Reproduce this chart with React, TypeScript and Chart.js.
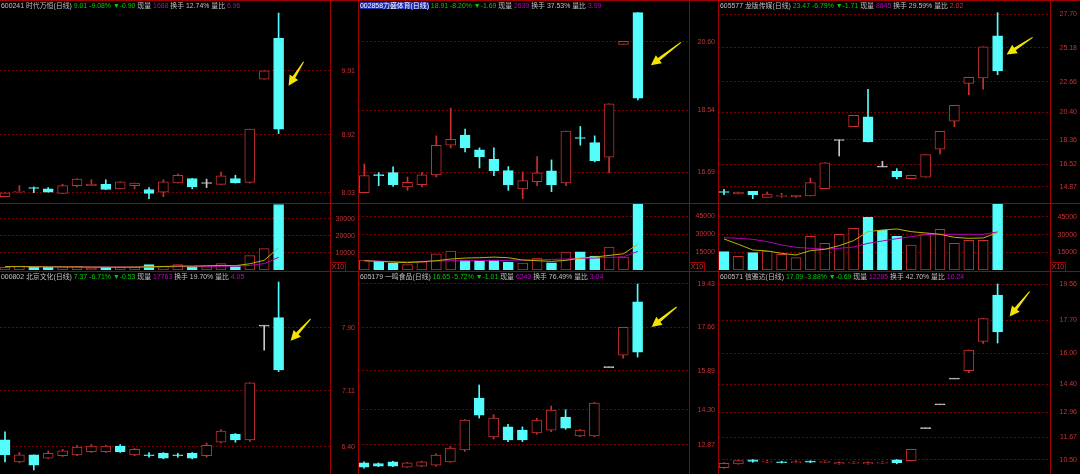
import React, { useEffect, useRef } from "react";
import { Chart, registerables } from "chart.js";

Chart.register(...registerables);

// ---------------- data ----------------
// Panel 1: 600241 时代万恒
const p1Open = [7.97, 8.04, 8.105, 8.09, 8.02, 8.14, 8.14, 8.16, 8.09, 8.14, 8.08, 8.04, 8.18, 8.25, 8.18, 8.16, 8.25, 8.19, 9.78, 10.41];
const p1High = [8.03, 8.14, 8.12, 8.11, 8.16, 8.25, 8.23, 8.23, 8.2, 8.18, 8.11, 8.23, 8.32, 8.25, 8.24, 8.35, 8.3, 9.01, 9.91, 10.8];
const p1Low = [7.97, 8.04, 8.03, 8.04, 8.02, 8.12, 8.14, 8.08, 8.09, 8.09, 7.94, 7.97, 8.18, 8.09, 8.11, 8.16, 8.18, 8.18, 9.78, 8.94];
const p1Close = [8.03, 8.05, 8.1, 8.04, 8.14, 8.24, 8.16, 8.08, 8.2, 8.18, 8.02, 8.2, 8.3, 8.12, 8.18, 8.29, 8.18, 9.01, 9.91, 9.01];
const p1Vol = [1570, 2350, 1570, 1570, 1960, 1960, 1180, 1570, 1570, 1570, 3140, 2350, 3140, 1960, 1960, 3730, 1960, 8430, 12550, 38430];
const p1Ma5 = [2000, 2000, 1900, 1800, 1800, 1800, 1700, 1650, 1650, 1700, 1900, 2050, 2300, 2300, 2500, 2650, 2550, 3650, 5700, 13000];
const p1Ma10 = [2000, 2000, 1950, 1900, 1850, 1850, 1800, 1750, 1750, 1750, 1800, 1850, 1950, 1950, 2000, 2200, 2250, 2700, 3750, 7400];
const p1Ticks = [9.91, 8.92, 8.03];
const p1VolTicks = [30000, 20000, 10000];
const p1Head = ["600241", "时代万恒", "9.01", "-9.08%", "-0.90", "1688", "12.74%", "6.96"];

// Panel 2: 002858 力盛体育
const p2Open = [16.08, 16.61, 16.68, 16.25, 16.32, 16.61, 17.5, 17.8, 17.36, 17.08, 16.74, 16.19, 16.41, 16.73, 16.37, 17.72, 17.58, 17.14, 20.52, 21.47];
const p2High = [16.94, 16.68, 16.85, 16.55, 16.68, 17.78, 18.61, 17.98, 17.42, 17.42, 16.86, 16.7, 17.16, 17.06, 17.92, 18.06, 17.78, 18.74, 20.61, 21.47];
const p2Low = [16.08, 16.29, 16.27, 16.15, 16.25, 16.55, 17.42, 17.3, 16.82, 16.59, 16.15, 15.9, 16.29, 16.11, 16.29, 17.5, 17.0, 16.68, 20.52, 18.86];
const p2Close = [16.59, 16.6, 16.32, 16.39, 16.61, 17.5, 17.68, 17.42, 17.16, 16.74, 16.31, 16.44, 16.67, 16.31, 17.92, 17.71, 17.04, 18.74, 20.61, 18.91];
const p2Vol = [8333, 7222, 5833, 4444, 6944, 13611, 15833, 8333, 7222, 8333, 6667, 5833, 10000, 6111, 15000, 15278, 11667, 19167, 10833, 55000];
const p2Ma5 = [7778, 7222, 6667, 6111, 6944, 7778, 9167, 10000, 10278, 10833, 10278, 8333, 7778, 7222, 8056, 10000, 10833, 12222, 13611, 21667];
const p2Ma10 = [7778, 7500, 6944, 6944, 7222, 7500, 7778, 7778, 8056, 8056, 8056, 8333, 8611, 8889, 9167, 9722, 10000, 10556, 11111, 15556];
const p2Ticks = [20.6, 18.54, 16.69];
const p2VolTicks = [45000, 30000, 15000];
const p2Head = ["002858", "力盛体育", "18.91", "-8.20%", "-1.69", "2639", "37.53%", "3.99"];

// Panel 3: 605577 龙版传媒
const p3Open = [14.48, 14.33, 14.53, 14.08, 14.18, 14.13, 14.18, 14.72, 18.34, 19.33, 20.07, 16.36, 16.01, 15.46, 15.57, 17.65, 19.73, 22.55, 22.95, 26.07];
const p3High = [14.68, 14.47, 14.53, 14.48, 14.38, 14.23, 15.52, 16.65, 18.34, 20.17, 22.11, 16.76, 16.21, 15.72, 17.25, 18.99, 20.92, 23.0, 25.27, 27.8];
const p3Low = [14.27, 14.33, 13.98, 14.08, 14.08, 14.08, 14.18, 14.72, 17.15, 19.33, 18.19, 16.36, 15.46, 15.46, 15.57, 17.3, 19.33, 21.7, 22.11, 23.19];
const p3Close = [14.47, 14.47, 14.27, 14.33, 14.2, 14.23, 15.17, 16.65, 18.34, 20.17, 18.19, 16.36, 15.61, 15.72, 17.25, 18.99, 20.92, 23.0, 25.27, 23.47];
const p3Vol = [15566, 11600, 14717, 16132, 13302, 10472, 28585, 22642, 30283, 35377, 44717, 33679, 28585, 21226, 30566, 34528, 22642, 25189, 25189, 55755];
const p3Ma5 = [26319, 21791, 16980, 16131, 14150, 12735, 16414, 17546, 20659, 24904, 32545, 33960, 34809, 32545, 31413, 30281, 27734, 26885, 27168, 31696];
const p3Ma10 = [27451, 26885, 26036, 24055, 21225, 19244, 18395, 17829, 18395, 19527, 22640, 24621, 26602, 28300, 29998, 30281, 30281, 30281, 30281, 32262];
const p3Ticks = [27.7, 25.18, 22.66, 20.4, 18.36, 16.52, 14.87];
const p3VolTicks = [45000, 30000, 15000];
const p3Head = ["605577", "龙版传媒", "23.47", "-6.79%", "-1.71", "8845", "29.59%", "2.02"];

// Panel 4: 000802 北京文化
const p4Open = [6.49, 6.21, 6.3, 6.26, 6.29, 6.3, 6.34, 6.34, 6.41, 6.3, 6.3, 6.32, 6.3, 6.32, 6.29, 6.46, 6.56, 6.49, 7.93, 8.03];
const p4High = [6.59, 6.33, 6.3, 6.35, 6.37, 6.42, 6.43, 6.42, 6.43, 6.38, 6.33, 6.33, 6.32, 6.33, 6.45, 6.62, 6.57, 7.21, 7.93, 8.48];
const p4Low = [6.21, 6.2, 6.11, 6.25, 6.28, 6.29, 6.33, 6.33, 6.33, 6.29, 6.27, 6.25, 6.27, 6.25, 6.27, 6.45, 6.46, 6.47, 7.62, 7.35];
const p4Close = [6.3, 6.3, 6.17, 6.32, 6.35, 6.4, 6.41, 6.41, 6.34, 6.37, 6.29, 6.26, 6.29, 6.26, 6.42, 6.6, 6.49, 7.21, 7.93, 7.37];
const p4Ticks = [7.9, 7.11, 6.4];
const p4Head = ["000802", "北京文化", "7.37", "-6.71%", "-0.53", "17763", "19.70%", "4.05"];

// Panel 5: 605179 一鸣食品
const p5Open = [12.13, 12.1, 12.17, 11.96, 12.0, 12.04, 12.17, 12.66, 14.78, 13.19, 13.6, 13.47, 13.35, 13.47, 14.0, 13.23, 13.23, 16.04, 16.53, 18.7];
const p5High = [12.17, 12.13, 12.2, 12.15, 12.2, 12.5, 12.8, 13.9, 15.31, 14.1, 13.7, 13.6, 13.95, 14.45, 14.3, 13.5, 14.6, 16.04, 17.66, 19.43];
const p5Low = [11.92, 11.98, 11.98, 11.95, 11.98, 12.0, 12.15, 12.6, 13.96, 13.1, 13.0, 13.0, 13.3, 13.4, 13.5, 13.2, 13.2, 16.04, 16.4, 16.45];
const p5Close = [11.96, 12.0, 12.0, 12.13, 12.17, 12.45, 12.74, 13.88, 14.08, 13.96, 13.07, 13.07, 13.88, 14.29, 13.55, 13.47, 14.57, 16.04, 17.66, 16.65];
const p5Ticks = [19.43, 17.66, 15.89, 14.3, 12.87];
const p5Head = ["605179", "一鸣食品", "16.65", "-5.72%", "-1.01", "6243", "76.49%", "3.04"];

// Panel 6: 600571 信雅达
const p6Open = [10.1, 10.3, 10.5, 10.38, 10.4, 10.36, 10.44, 10.38, 10.3, 10.34, 10.3, 10.34, 10.5, 10.46, 12.14, 13.36, 14.69, 15.1, 16.6, 18.99];
const p6High = [10.36, 10.5, 10.52, 10.48, 10.44, 10.46, 10.46, 10.46, 10.4, 10.42, 10.4, 10.42, 10.52, 11.04, 12.14, 13.36, 14.69, 16.16, 17.78, 19.56];
const p6Low = [10.06, 10.28, 10.38, 10.36, 10.34, 10.34, 10.36, 10.36, 10.28, 10.32, 10.28, 10.32, 10.3, 10.44, 12.14, 13.36, 14.69, 15.0, 16.5, 16.52];
const p6Close = [10.32, 10.46, 10.42, 10.44, 10.36, 10.42, 10.38, 10.42, 10.36, 10.38, 10.36, 10.38, 10.36, 11.04, 12.14, 13.36, 14.69, 16.16, 17.78, 17.09];
const p6Ticks = [19.56, 17.7, 16.0, 14.4, 12.96, 11.67, 10.5];
const p6Head = ["600571", "信雅达", "17.09", "-3.88%", "-0.69", "12285", "42.70%", "10.24"];

// ---------------- style ----------------
const FONT = '"Liberation Sans", "Noto Sans CJK SC", sans-serif';
const UP = "#c83030";
const DOWN = "#54fcfc";
const FLAT = "#c8c8c8";
const GRID = "#7a0000";
const FRAME = "#a00000";
const AXIS_TXT = "#c83232";
const ARROW = "#f4e400";
const MA5C = "#b8b800";
const MA10C = "#b400b4";
const GREEN = "#00cc00";
const GRAY = "#c0c0c0";
const MAG = "#c000c0";
const SLOT = 14.4;

function drawArrow(ctx: any, x0: number, y0: number, x1: number, y1: number) {
  const ang = Math.atan2(y1 - y0, x1 - x0);
  const L = Math.hypot(x1 - x0, y1 - y0);
  const headL = 10;
  const headW = 5;
  const c = Math.cos(ang), s = Math.sin(ang);
  const bx = x0 + c * (L - headL), by = y0 + s * (L - headL);
  ctx.fillStyle = ARROW;
  ctx.beginPath();
  ctx.moveTo(x0 - s * 0.5, y0 + c * 0.5);
  ctx.lineTo(bx - s * 1.6, by + c * 1.6);
  ctx.lineTo(bx - s * headW, by + c * headW);
  ctx.lineTo(x1, y1);
  ctx.lineTo(bx + s * headW, by - c * headW);
  ctx.lineTo(bx + s * 1.6, by - c * 1.6);
  ctx.lineTo(x0 + s * 0.5, y0 - c * 0.5);
  ctx.closePath();
  ctx.fill();
}

function baseOptions(plotW: number, axisW: number, firstX: number, yMin: number, yMax: number, ticks: number[]) {
  const xMin = -firstX / SLOT;
  return {
    responsive: false,
    animation: false,
    devicePixelRatio: 1,
    layout: { padding: 0 },
    plugins: { legend: { display: false }, tooltip: { enabled: false } },
    scales: {
      x: {
        type: "linear",
        min: xMin,
        max: xMin + plotW / SLOT,
        display: false,
        offset: false,
        grid: { offset: false },
      },
      y: {
        position: "right",
        min: yMin,
        max: yMax,
        grid: { color: GRID, drawTicks: false, lineWidth: 1 },
        border: { display: false, dash: [2, 2] },
        ticks: { display: false },
        afterBuildTicks: (s: any) => {
          s.ticks = ticks.map((v) => ({ value: v }));
        },
        afterFit: (s: any) => {
          s.width = axisW;
          s.paddingTop = 0;
          s.paddingBottom = 0;
        },
      },
    },
  };
}

type PriceProps = {
  left: number; top: number; plotW: number; axisW: number; height: number; firstX: number;
  open: number[]; high: number[]; low: number[]; close: number[];
  yMin: number; yMax: number; ticks: number[]; arrow: number[];
};

function PriceChart(p: PriceProps) {
  const ref = useRef<HTMLCanvasElement>(null);
  useEffect(() => {
    const cv = ref.current as HTMLCanvasElement;
    const { open, high, low, close } = p;
    const n = open.length;
    const onePx = (p.yMax - p.yMin) / p.height;
    const kind = open.map((o, i) => (close[i] > o ? 1 : close[i] < o ? -1 : 0));
    const col = kind.map((k) => (k > 0 ? UP : k < 0 ? DOWN : FLAT));
    const body = open.map((o, i) => {
      let lo = Math.min(o, close[i]);
      let hi = Math.max(o, close[i]);
      if (hi - lo < onePx) {
        const m = (hi + lo) / 2;
        lo = m - onePx / 2;
        hi = m + onePx / 2;
      }
      return { x: i, y: [lo, hi] };
    });
    const wick = open.map((_, i) => ({ x: i, y: [low[i], high[i]] }));
    const last = n - 1;
    const decor = {
      id: "decor",
      afterDraw(chart: any) {
        const ctx = chart.ctx;
        const ys = chart.scales.y;
        const xs = chart.scales.x;
        ctx.save();
        ctx.font = `7px ${FONT}`;
        ctx.fillStyle = AXIS_TXT;
        ctx.textAlign = "right";
        ctx.textBaseline = "middle";
        p.ticks.forEach((v) => ctx.fillText(v.toFixed(2), chart.width - 3, ys.getPixelForValue(v)));
        const cx = xs.getPixelForValue(last);
        const cy = ys.getPixelForValue((open[last] + close[last]) / 2);
        const [tdx, tdy, bdx, bdy] = p.arrow;
        drawArrow(ctx, cx + bdx, cy + bdy, cx + tdx, cy + tdy);
        ctx.restore();
      },
    };
    const chart = new Chart(cv, {
      type: "bar",
      data: {
        datasets: [
          {
            data: body,
            backgroundColor: kind.map((k) => (k > 0 ? "#000000" : k < 0 ? DOWN : FLAT)),
            borderColor: col,
            borderWidth: 1,
            borderSkipped: false,
            barThickness: 10,
            grouped: false,
            order: 0,
          },
          {
            data: wick,
            backgroundColor: col,
            borderWidth: 0,
            barThickness: 1,
            grouped: false,
            order: 1,
          },
        ],
      } as any,
      options: baseOptions(p.plotW, p.axisW, p.firstX, p.yMin, p.yMax, p.ticks) as any,
      plugins: [decor],
    });
    return () => chart.destroy();
  }, []);
  const w = p.plotW + p.axisW;
  return (
    <canvas
      ref={ref}
      width={w}
      height={p.height}
      style={{ position: "absolute", left: p.left, top: p.top, width: w, height: p.height }}
    />
  );
}

type VolProps = {
  left: number; top: number; plotW: number; axisW: number; height: number; firstX: number;
  open: number[]; close: number[]; vol: number[]; ma5: number[]; ma10: number[]; yMax: number; ticks: number[];
};

function VolChart(p: VolProps) {
  const ref = useRef<HTMLCanvasElement>(null);
  useEffect(() => {
    const cv = ref.current as HTMLCanvasElement;
    const { open, close } = p;
    const up = open.map((o, i) => (close[i] > o ? true : close[i] < o ? false : i === 0 ? true : close[i] >= close[i - 1]));
    const decor = {
      id: "vdecor",
      afterDraw(chart: any) {
        const ctx = chart.ctx;
        const ys = chart.scales.y;
        ctx.save();
        ctx.font = `7px ${FONT}`;
        ctx.fillStyle = AXIS_TXT;
        ctx.textAlign = "right";
        ctx.textBaseline = "middle";
        p.ticks.forEach((v) => ctx.fillText(String(v), chart.width - 3, ys.getPixelForValue(v)));
        ctx.restore();
      },
    };
    const chart = new Chart(cv, {
      type: "bar",
      data: {
        datasets: [
          {
            type: "line",
            data: p.ma5.map((v, i) => ({ x: i, y: v })),
            borderColor: MA5C,
            borderWidth: 1,
            pointRadius: 0,
            order: 0,
          },
          {
            type: "line",
            data: p.ma10.map((v, i) => ({ x: i, y: v })),
            borderColor: MA10C,
            borderWidth: 1,
            pointRadius: 0,
            order: 0,
          },
          {
            data: p.vol.map((v, i) => ({ x: i, y: v })),
            backgroundColor: up.map((u) => (u ? "#000000" : DOWN)),
            borderColor: up.map((u) => (u ? UP : DOWN)),
            borderWidth: 1,
            borderSkipped: false,
            barThickness: 10,
            grouped: false,
            order: 1,
          },
        ],
      } as any,
      options: baseOptions(p.plotW, p.axisW, p.firstX, 0, p.yMax, p.ticks) as any,
      plugins: [decor],
    });
    return () => chart.destroy();
  }, []);
  const w = p.plotW + p.axisW;
  return (
    <canvas
      ref={ref}
      width={w}
      height={p.height}
      style={{ position: "absolute", left: p.left, top: p.top, width: w, height: p.height }}
    />
  );
}

function Header({ left, top, info, hl, ratioColor }: any) {
  const [code, name, price, pct, chg, vol, turn, ratio] = info;
  return (
    <div
      style={{
        position: "absolute",
        left,
        top,
        font: `6.9px ${FONT}`,
        lineHeight: "9px",
        whiteSpace: "nowrap",
        color: GRAY,
      }}
    >
      <span style={hl ? { background: "#1e2ea8", color: "#ffffff" } : {}}>
        {code}
        {hl ? "" : " "}
        {name}(日线)
      </span>
      <span style={{ color: GREEN }}>
        {" "}
        {price} {pct} ▼{chg}
      </span>
      <span> 现量 </span>
      <span style={{ color: MAG }}>{vol}</span>
      <span> 换手 {turn} 量比 </span>
      <span style={{ color: ratioColor }}>{ratio}</span>
    </div>
  );
}

function HLine({ y }: { y: number }) {
  return <div style={{ position: "absolute", left: 0, top: y, width: 1080, height: 1, background: FRAME }} />;
}
function VLine({ x }: { x: number }) {
  return <div style={{ position: "absolute", left: x, top: 0, width: 1, height: 474, background: FRAME }} />;
}
function X10({ x }: { x: number }) {
  return (
    <div
      style={{
        position: "absolute",
        left: x,
        top: 262,
        width: 14,
        height: 8,
        border: `1px solid ${FRAME}`,
        color: AXIS_TXT,
        font: `7px ${FONT}`,
        lineHeight: "8px",
        textAlign: "center",
      }}
    >
      X10
    </div>
  );
}

const COLS = [
  { left: 0, plotW: 330, axisW: 28 },
  { left: 358, plotW: 331, axisW: 29 },
  { left: 718, plotW: 332, axisW: 30 },
];

export default function App() {
  return (
    <div
      style={{
        position: "fixed",
        left: 0,
        top: 0,
        width: 1080,
        height: 474,
        background: "#000000",
        overflow: "hidden",
      }}
    >
      {/* top row price */}
      <PriceChart {...COLS[0]} top={1} height={202} firstX={5} open={p1Open} high={p1High} low={p1Low} close={p1Close}
        yMin={7.872} yMax={10.985} ticks={p1Ticks} arrow={[10, 2, 25, -22]} />
      <PriceChart {...COLS[1]} top={1} height={202} firstX={6.3} open={p2Open} high={p2High} low={p2Low} close={p2Close}
        yMin={15.77} yMax={21.818} ticks={p2Ticks} arrow={[13, 10, 43, -13]} />
      <PriceChart {...COLS[2]} top={1} height={202} firstX={6} open={p3Open} high={p3High} low={p3Low} close={p3Close}
        yMin={13.659} yMax={28.666} ticks={p3Ticks} arrow={[9, 1, 35, -16]} />
      {/* top row volume */}
      <VolChart {...COLS[0]} top={204} height={66} firstX={5} open={p1Open} close={p1Close} vol={p1Vol} ma5={p1Ma5} ma10={p1Ma10}
        yMax={38700} ticks={p1VolTicks} />
      <VolChart {...COLS[1]} top={204} height={66} firstX={6.3} open={p2Open} close={p2Close} vol={p2Vol} ma5={p2Ma5} ma10={p2Ma10}
        yMax={55300} ticks={p2VolTicks} />
      <VolChart {...COLS[2]} top={204} height={66} firstX={6} open={p3Open} close={p3Close} vol={p3Vol} ma5={p3Ma5} ma10={p3Ma10}
        yMax={56000} ticks={p3VolTicks} />
      {/* bottom row price */}
      <PriceChart {...COLS[0]} top={272} height={202} firstX={5} open={p4Open} high={p4High} low={p4Low} close={p4Close}
        yMin={6.059} yMax={8.606} ticks={p4Ticks} arrow={[12, -3, 32, -25]} />
      <PriceChart {...COLS[1]} top={272} height={202} firstX={6} open={p5Open} high={p5High} low={p5Low} close={p5Close}
        yMin={11.678} yMax={19.919} ticks={p5Ticks} arrow={[14, 0, 39, -20]} />
      <PriceChart {...COLS[2]} top={272} height={202} firstX={6} open={p6Open} high={p6High} low={p6Low} close={p6Close}
        yMin={9.775} yMax={20.178} ticks={p6Ticks} arrow={[12, 3, 32, -22]} />

      <HLine y={0} />
      <HLine y={203} />
      <HLine y={271} />
      <VLine x={330} />
      <VLine x={358} />
      <VLine x={689} />
      <VLine x={718} />
      <VLine x={1050} />
      <X10 x={330} />
      <X10 x={689} />
      <X10 x={1050} />

      <Header left={1} top={1} info={p1Head} ratioColor={MAG} />
      <Header left={360} top={1} info={p2Head} hl ratioColor={MAG} />
      <Header left={720} top={1} info={p3Head} ratioColor={"#e03030"} />
      <Header left={1} top={272} info={p4Head} ratioColor={MAG} />
      <Header left={360} top={272} info={p5Head} ratioColor={MAG} />
      <Header left={720} top={272} info={p6Head} ratioColor={MAG} />
    </div>
  );
}
